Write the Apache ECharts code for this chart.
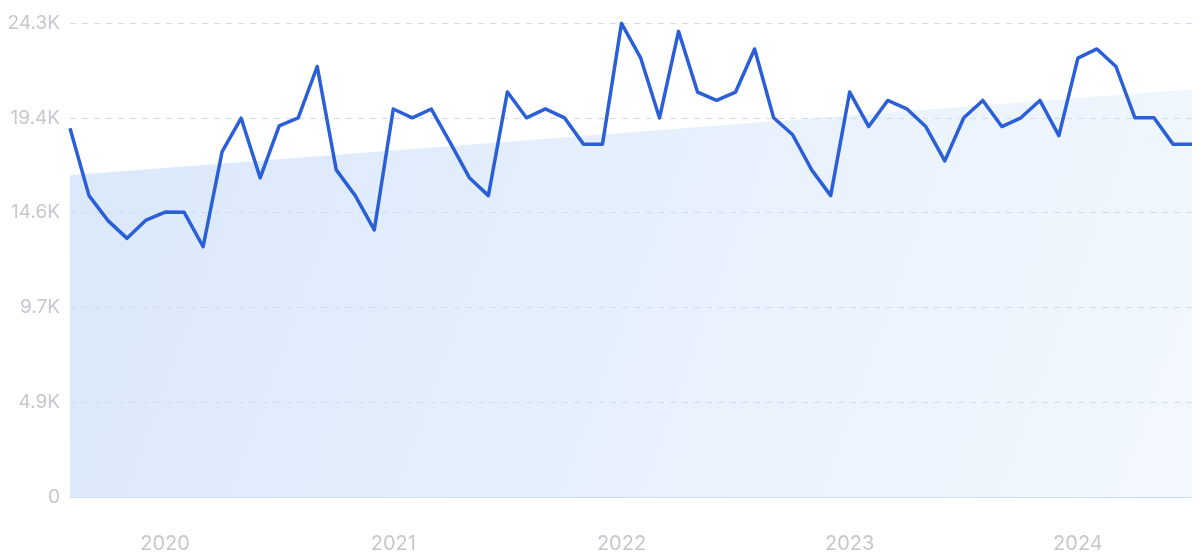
<!DOCTYPE html>
<html>
<head>
<meta charset="utf-8">
<script src="https://cdn.jsdelivr.net/npm/echarts@6/dist/echarts.min.js"></script>
<style>html,body{margin:0;padding:0;background:#fff}#c{width:1200px;height:559px}</style>
</head>
<body>
<div id="c"></div>
<script>
const months = [
  '2019-08','2019-09','2019-10','2019-11','2019-12',
  '2020-01','2020-02','2020-03','2020-04','2020-05','2020-06','2020-07','2020-08','2020-09','2020-10','2020-11','2020-12',
  '2021-01','2021-02','2021-03','2021-04','2021-05','2021-06','2021-07','2021-08','2021-09','2021-10','2021-11','2021-12',
  '2022-01','2022-02','2022-03','2022-04','2022-05','2022-06','2022-07','2022-08','2022-09','2022-10','2022-11','2022-12',
  '2023-01','2023-02','2023-03','2023-04','2023-05','2023-06','2023-07','2023-08','2023-09','2023-10','2023-11','2023-12',
  '2024-01','2024-02','2024-03','2024-04','2024-05','2024-06','2024-07'
];
const volume = [
  18900,15450,14170,13260,14200,14610,14600,12830,17710,19420,16360,19030,19440,22070,16770,15450,13690,
  19890,19440,19890,18150,16370,15450,20760,19440,19900,19440,18090,18090,
  24280,22530,19430,23870,20760,20330,20760,22970,19440,18570,16770,15450,
  20760,18990,20330,19900,18990,17230,19440,20330,18990,19440,20330,18530,
  22500,22970,22070,19440,19440,18090,18090
];
const trendStart = 16500;
const trendEnd = 20900;
const yTickLabels = ['0','4.9K','9.7K','14.6K','19.4K','24.3K'];
const yMax = 24300;
const yStep = 4860;

const trend = months.map((m, i) => i === 0 ? trendStart : (i === months.length - 1 ? trendEnd : null));

const chart = echarts.init(document.getElementById('c'), null, {renderer: 'canvas'});
chart.setOption({
  animation: false,
  grid: {left: 70, right: 8, top: 23, bottom: 62, containLabel: false},
  xAxis: {
    type: 'category',
    data: months,
    boundaryGap: false,
    z: 2,
    axisLine: {show: true, lineStyle: {color: '#cddff6', width: 1}},
    axisTick: {show: false},
    axisLabel: {
      interval: (idx, val) => val.endsWith('-01'),
      formatter: v => v.slice(0, 4),
      color: '#c5c7cc',
      fontSize: 20,
      fontFamily: 'Inter',
      margin: 37
    },
    splitLine: {show: false}
  },
  yAxis: {
    type: 'value',
    min: 0,
    max: yMax,
    interval: yStep,
    z: 2,
    axisLine: {show: false},
    axisTick: {show: false},
    axisLabel: {
      formatter: (v, i) => yTickLabels[Math.round(v / yStep)],
      color: '#c5c7cc',
      fontSize: 19,
      fontFamily: 'Inter',
      margin: 10
    },
    splitLine: {show: true, lineStyle: {color: '#cfdcee', type: [6, 6], width: 1}}
  },
  series: [
    {
      type: 'line',
      data: trend,
      connectNulls: true,
      symbol: 'none',
      lineStyle: {width: 0},
      areaStyle: {
        opacity: 1,
        color: new echarts.graphic.LinearGradient(0, 0, 1, 1, [
          {offset: 0, color: '#dae8fb'},
          {offset: 1, color: '#f3f8fe'}
        ])
      },
      z: 1,
      silent: true
    },
    {
      type: 'line',
      data: volume,
      symbol: 'none',
      lineStyle: {color: '#2b5fd8', width: 3.5, join: 'round'},
      z: 3
    }
  ]
});
</script>
</body>
</html>
